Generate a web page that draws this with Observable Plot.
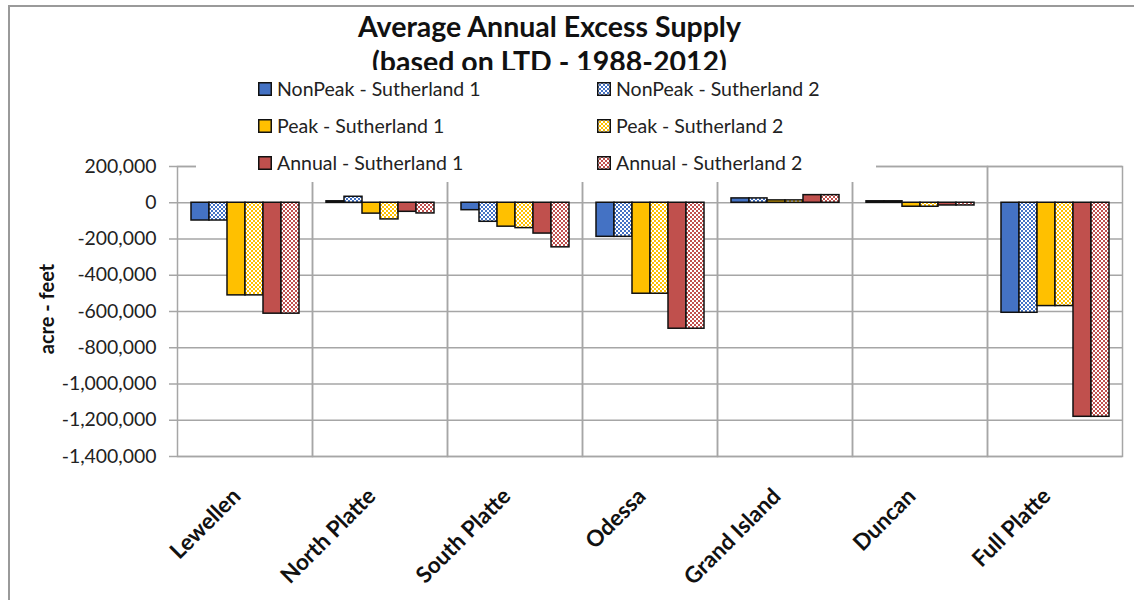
<!DOCTYPE html>
<html>
<head>
<meta charset="utf-8">
<script src="https://cdn.jsdelivr.net/npm/d3@7"></script>
<script src="https://cdn.jsdelivr.net/npm/@observablehq/plot@0.6"></script>
<style>
  html, body { margin: 0; padding: 0; background: #fff; }
  #wrap { position: relative; width: 1134px; height: 600px; overflow: hidden; font-family: Lato, "Open Sans", sans-serif; color: #222; }
  #border { position: absolute; left: 8px; top: 5px; width: 1200px; height: 700px; border-left: 2px solid #9a9a9a; border-top: 2px solid #9a9a9a; }
  #chart { position: absolute; left: 0; top: 0; }
  #title { position: absolute; left: 0; width: 1099px; top: 9px; text-align: center; font-weight: bold; font-size: 28.5px; line-height: 35px; color: #111; }
  #legend { position: absolute; left: 196px; top: 70px; width: 680px; height: 112px; background: #fff; }
  .item { position: absolute; display: flex; align-items: center; font-size: 19.5px; white-space: nowrap; color: #222; }
  .item svg { margin-right: 5px; }
  #ylabel { position: absolute; left: 46px; top: 309px; transform: translate(-50%, -50%) rotate(-90deg); font-weight: bold; font-size: 20px; white-space: nowrap; color: #111; }
</style>
</head>
<body>
<svg width="0" height="0" style="position:absolute">
  <defs id="patterns"></defs>
</svg>
<div id="wrap">
  <div id="border"></div>
  <div id="title">Average Annual Excess Supply<br>(based on LTD - 1988-2012)</div>
  <div id="chart"></div>
  <div id="legend"></div>
  <div id="ylabel">acre - feet</div>
</div>
<script>
// Gauging locations along the Platte
const categories = ["Lewellen", "North Platte", "South Platte", "Odessa", "Grand Island", "Duncan", "Full Platte"];

// Series names, in drawing order within each location
const seriesNames = [
  "NonPeak - Sutherland 1", "NonPeak - Sutherland 2",
  "Peak - Sutherland 1", "Peak - Sutherland 2",
  "Annual - Sutherland 1", "Annual - Sutherland 2"
];

// Average annual excess supply (acre-feet), one value per location
const nonPeak1 = [-98000, 8000, -41000, -188000, 24000, 8000, -607000];
const nonPeak2 = [-98000, 33000, -105000, -188000, 24000, 8000, -607000];
const peak1 = [-511000, -60000, -132000, -502000, 13000, -22000, -570000];
const peak2 = [-511000, -92000, -140000, -502000, 13000, -22000, -570000];
const annual1 = [-612000, -50000, -170000, -695000, 42000, -15000, -1181000];
const annual2 = [-612000, -59000, -246000, -695000, 42000, -15000, -1181000];

// Value axis ticks
const yTicks = [200000, 0, -200000, -400000, -600000, -800000, -1000000, -1200000, -1400000];

const seriesValues = [nonPeak1, nonPeak2, peak1, peak2, annual1, annual2];
const baseColors = ["#4472C4", "#4472C4", "#FFC000", "#FFC000", "#C0504D", "#C0504D"];
const patterned = [false, true, false, true, false, true];

// Checkerboard patterns for the "Sutherland 2" series
const defs = document.getElementById("patterns");
const fills = baseColors.map((c, j) => {
  if (!patterned[j]) return c;
  const id = "chk" + j;
  defs.insertAdjacentHTML("beforeend",
    `<pattern id="${id}" width="4" height="4" patternUnits="userSpaceOnUse">
       <rect width="4" height="4" fill="#fff"/>
       <rect width="2" height="2" fill="${c}"/>
       <rect x="2" y="2" width="2" height="2" fill="${c}"/>
     </pattern>`);
  return `url(#${id})`;
});

const data = categories.flatMap((category, i) =>
  seriesNames.map((series, j) => ({category, series, value: seriesValues[j][i]}))
);

const fmt = d => d.toLocaleString("en-US");
const grid = "#a6a6a6";

const chart = Plot.plot({
  width: 1134,
  height: 600,
  marginTop: 166,
  marginBottom: 144,
  marginLeft: 176,
  marginRight: 11,
  style: {fontFamily: "Lato, sans-serif", fontSize: "19.4px", background: "transparent", color: "#222"},
  fx: {domain: categories, padding: 0, label: null, axis: null},
  x: {domain: seriesNames, paddingInner: 0, paddingOuter: 0.74, axis: null},
  y: {domain: [-1400000, 200000], label: null, axis: null},
  color: {domain: seriesNames, range: fills},
  marks: [
    Plot.gridY(yTicks, {stroke: grid, strokeOpacity: 1, strokeWidth: 1.5}),
    Plot.frame({stroke: grid, strokeWidth: 1.5}),
    Plot.axisY(yTicks, {tickSize: 8, tickPadding: 13, tickFormat: fmt, stroke: grid, strokeWidth: 1.5, fill: "#222", fontSize: 19.4, label: null}),
    Plot.barY(data, {fx: "category", x: "series", y: "value", fill: "series", stroke: "#111", strokeWidth: 1.5}),
    Plot.axisFx({anchor: "bottom", tickSize: 0, tickPadding: 36, dx: -8, tickRotate: -45, fontWeight: "bold", fontSize: 22.5, fill: "#111", label: null})
  ]
});
document.getElementById("chart").appendChild(chart);

// Legend: two columns, three rows
const legend = document.getElementById("legend");
const colX = [62, 401];
const rowY = [20, 57, 94];
seriesNames.forEach((name, j) => {
  const col = j % 2, row = Math.floor(j / 2);
  const item = document.createElement("div");
  item.className = "item";
  item.style.left = colX[col] + "px";
  item.style.top = (rowY[row] - 13) + "px";
  item.innerHTML = `<svg width="14" height="14"><rect x="0.75" y="0.75" width="12.5" height="12.5" fill="${fills[j]}" stroke="#111" stroke-width="1.5"/></svg><span>${name}</span>`;
  legend.appendChild(item);
});
</script>
</body>
</html>
